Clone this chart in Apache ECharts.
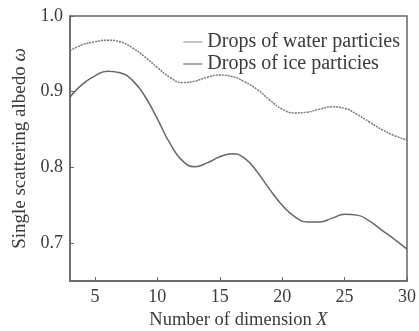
<!DOCTYPE html>
<html>
<head>
<meta charset="utf-8">
<script src="https://cdn.jsdelivr.net/npm/echarts@6/dist/echarts.min.js"></script>
<style>
  html, body { margin: 0; padding: 0; background: #fff; }
  #chart { width: 419px; height: 331px; }
</style>
</head>
<body>
<div id="chart"></div>
<script>
// 横坐标: 维数 X
const dimensions = [3, 4, 5, 6, 7, 8, 9, 10, 11, 12, 13, 14, 15, 16, 17, 18, 19, 20, 21, 22, 23, 24, 25, 26, 27, 28, 29, 30]
// 水粒子 (虚线)
const waterAlbedo = [0.954, 0.962, 0.966, 0.968, 0.966, 0.958, 0.946, 0.932, 0.919, 0.912, 0.914, 0.919, 0.922, 0.920, 0.913, 0.903, 0.889, 0.877, 0.872, 0.873, 0.877, 0.880, 0.878, 0.870, 0.860, 0.850, 0.842, 0.836]
// 冰粒子 (实线)
const iceAlbedo = [0.893, 0.910, 0.921, 0.927, 0.925, 0.915, 0.894, 0.864, 0.832, 0.809, 0.801, 0.806, 0.814, 0.818, 0.812, 0.794, 0.771, 0.750, 0.735, 0.728, 0.728, 0.733, 0.738, 0.737, 0.729, 0.717, 0.705, 0.692]
const xTicks = [5, 10, 15, 20, 25, 30]
const yTicks = [0.7, 0.8, 0.9, 1.0]

const font = "'Liberation Serif', 'Times New Roman', serif"
const textColor = '#3a3a3a'
const axisColor = '#666'

const chart = echarts.init(document.getElementById('chart'))

// 轴名称里的斜体变量
const nameStyle = size => ({
  fontFamily: font,
  fontSize: size,
  color: textColor,
  rich: { i: { fontFamily: font, fontSize: size, fontStyle: 'italic', color: textColor } }
})

chart.setOption({
  backgroundColor: '#fff',
  animation: false,
  grid: {
    left: 70,
    right: 12,
    top: 16,
    bottom: 50,
    outerBoundsMode: 'none',
    show: true,
    borderColor: axisColor,
    borderWidth: 1.5
  },
  legend: {
    right: 14,
    top: 27,
    orient: 'vertical',
    itemWidth: 19,
    itemHeight: 10,
    itemGap: 2,
    icon: 'path://M0,0H20V1H0Z',
    textStyle: { fontFamily: font, fontSize: 20, color: textColor },
    data: ['Drops of water particies', 'Drops of ice particies']
  },
  xAxis: {
    type: 'value',
    min: 3,
    max: 30,
    name: 'Number of dimension {i|X}',
    nameLocation: 'middle',
    nameGap: 30,
    nameTextStyle: nameStyle(18.5),
    axisLine: { lineStyle: { color: axisColor, width: 1.5 } },
    axisTick: { inside: true, length: 4, customValues: xTicks, lineStyle: { color: axisColor } },
    axisLabel: { customValues: xTicks, fontFamily: font, fontSize: 18, color: textColor, margin: 7 },
    splitLine: { show: false }
  },
  yAxis: {
    type: 'value',
    min: 0.65,
    max: 1.0,
    name: 'Single scattering albedo {i|ω}',
    nameLocation: 'middle',
    nameGap: 39,
    nameTextStyle: nameStyle(19),
    axisLine: { show: true, lineStyle: { color: axisColor, width: 1.5 } },
    axisTick: { show: true, inside: true, length: 4, customValues: yTicks, lineStyle: { color: axisColor } },
    axisLabel: {
      customValues: yTicks,
      fontFamily: font,
      fontSize: 18,
      color: textColor,
      margin: 7,
      formatter: v => v.toFixed(1)
    },
    splitLine: { show: false }
  },
  series: [
    {
      name: 'Drops of water particies',
      type: 'line',
      smooth: true,
      showSymbol: false,
      data: dimensions.map((x, i) => [x, waterAlbedo[i]]),
      lineStyle: { color: '#777', width: 1.5, type: [2, 1] },
      itemStyle: { color: '#888' }
    },
    {
      name: 'Drops of ice particies',
      type: 'line',
      smooth: true,
      showSymbol: false,
      data: dimensions.map((x, i) => [x, iceAlbedo[i]]),
      lineStyle: { color: '#666', width: 1.5 },
      itemStyle: { color: '#444' }
    }
  ]
})
</script>
</body>
</html>
